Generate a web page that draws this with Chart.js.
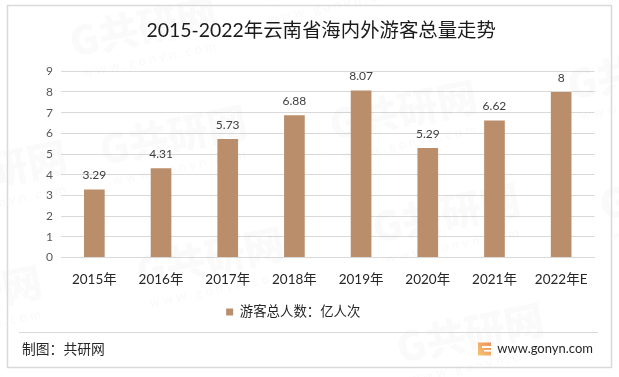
<!DOCTYPE html>
<html><head><meta charset="utf-8">
<style>html,body{margin:0;padding:0;background:#fff}#w{width:619px;height:377px}canvas{display:block}</style>
<script src="https://cdn.jsdelivr.net/npm/chart.js@4"></script></head>
<body><div id="w"><canvas id="c" width="619" height="377"></canvas></div>
<script>
const categories=['2015年','2016年','2017年','2018年','2019年','2020年','2021年','2022年E'];
const seriesName='游客总人数：亿人次';
const values=[3.29,4.31,5.73,6.88,8.07,5.29,6.62,8];
const titleText='2015-2022年云南省海内外游客总量走势';
const sourceText='制图：共研网';
const siteText='www.gonyn.com';
const FONT='Lato, "Noto Sans CJK SC", sans-serif';
const marks=[[70,42],[100,150],[137,272],[373,228],[397,348],[-105,310],[330,125],[568,85],[600,205],[-80,185],[255,-12]];
const decor={id:'decor',
 afterLayout(c){const l=c.legend;l.left-=4;l.right-=4;const h=l.bottom-l.top;l.top=315-h/2;l.bottom=l.top+h;
  const t=c.titleBlock;t.left+=24;t.right+=24;t.top+=1;t.bottom+=1;},
 beforeDatasetsDraw(c){const x=c.ctx;x.save();
  x.textBaseline='middle';x.textAlign='left';
  for(const m of marks){x.save();x.translate(m[0],m[1]);x.rotate(-0.2);
   x.fillStyle='rgba(120,120,120,0.035)';x.font='900 40px "Noto Sans CJK SC"';x.fillText('G共研网',0,0);
   x.font='700 13px Lato';x.fillText('w w w . g o n y n . c o m',6,33);x.restore();}
  x.strokeStyle='#d9d9d9';x.lineWidth=1.5;x.strokeRect(7.5,5.5,604,362);
  x.lineWidth=1;x.beginPath();x.moveTo(19,332.5);x.lineTo(598,332.5);x.stroke();
  x.fillStyle='#262626';x.font='13.8px '+FONT;x.textBaseline='middle';x.fillText(sourceText,22,350);
  x.font='13px '+FONT;x.textAlign='right';x.fillText(siteText,593,349);
  const g=x.createLinearGradient(478,355,491,343);g.addColorStop(0,'#f6c56f');g.addColorStop(1,'#ef8f5e');
  x.fillStyle=g;x.fillRect(478,342.5,13,13);
  x.fillStyle='#fff';x.fillRect(482,346,9,2);x.fillRect(484,350,7,1.6);
  x.restore();},
 afterDatasetsDraw(c){const x=c.ctx;x.save();x.fillStyle='#404040';x.font='12px '+FONT;x.textAlign='center';x.textBaseline='bottom';
  c.getDatasetMeta(0).data.forEach((b,i)=>x.fillText(String(values[i]),b.x,b.y-8));x.restore();}
};
new Chart(document.getElementById('c'),{type:'bar',plugins:[decor],
 data:{labels:categories,datasets:[{label:seriesName,data:values,backgroundColor:'#BA8E6B',barPercentage:0.62,categoryPercentage:0.5}]},
 options:{responsive:false,animation:false,
  layout:{padding:{left:0,right:24.5,top:0,bottom:47}},
  plugins:{tooltip:{enabled:false},
   title:{display:true,text:titleText,color:'#1a1a1a',font:{family:FONT,size:19.4,weight:'400'},padding:{top:18,bottom:30}},
   legend:{position:'bottom',align:'center',labels:{boxWidth:7,boxHeight:7,color:'#262626',font:{family:FONT,size:13.4},padding:4},
     onClick:null}},
  scales:{
   y:{min:0,max:9,ticks:{stepSize:1,color:'#595959',font:{family:FONT,size:12},padding:8},
      grid:{color:'#d9d9d9',drawTicks:false,lineWidth:1},border:{display:false},
      afterFit(s){s.width=61;}},
   x:{grid:{display:false,drawTicks:false},border:{color:'#d9d9d9'},
      ticks:{color:'#262626',font:{family:FONT,size:13.5},padding:14,maxRotation:0,autoSkip:false},
      afterFit(s){s.height=45;}}
  }}});
</script></body></html>
